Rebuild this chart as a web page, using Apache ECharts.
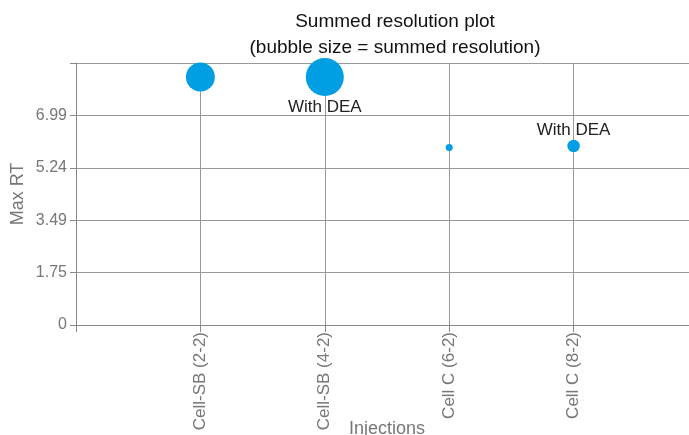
<!DOCTYPE html>
<html>
<head>
<meta charset="utf-8">
<script src="https://cdn.jsdelivr.net/npm/echarts@6/dist/echarts.min.js"></script>
<style>
  html, body { margin: 0; padding: 0; background: #fff; }
  #chart { width: 689px; height: 435px; }
</style>
</head>
<body>
<div id="chart"></div>
<script>
// injections on the x axis (placed at 1..4)
const injections = ['Cell-SB (2-2)', 'Cell-SB (4-2)', 'Cell C (6-2)', 'Cell C (8-2)']
const maxRT = [8.27, 8.27, 5.92, 5.97]
const summedResolution = [58, 100, 3.4, 10.8]
const bubbleLabels = ['', 'With DEA', '', 'With DEA']
const yTickLabels = ['0', '1.75', '3.49', '5.24', '6.99', '']

const yStep = 1.7475
const font = '"Liberation Sans Narrow", "Liberation Sans", sans-serif'
const maxRes = Math.max(...summedResolution)

const data = injections.map((name, i) => ({
  value: [i + 1, maxRT[i], summedResolution[i]],
  label: {
    show: bubbleLabels[i] !== '',
    formatter: bubbleLabels[i],
    position: i === 1 ? 'bottom' : 'top',
    distance: i === 1 ? 3 : 1,
  },
}))

const chart = echarts.init(document.getElementById('chart'))

chart.setOption({
  animation: false,
  title: {
    text: 'Summed resolution plot\n(bubble size = summed resolution)',
    left: 390,
    top: 4,
    textAlign: 'center',
    textStyle: {
      fontFamily: font,
      fontSize: 19,
      fontWeight: 'normal',
      color: '#111',
      lineHeight: 26,
    },
  },
  grid: {
    left: 76,
    top: 63,
    width: 622,
    height: 262,
    outerBoundsMode: 'none',
    containLabel: false,
  },
  xAxis: {
    type: 'value',
    min: 0,
    max: 5,
    interval: 1,
    name: 'Injections',
    nameLocation: 'middle',
    nameGap: 95,
    nameMoveOverlap: false,
    nameTextStyle: { fontFamily: font, fontSize: 18, color: '#777' },
    axisLine: { lineStyle: { color: '#888' } },
    axisTick: { show: true, length: 7, lineStyle: { color: '#888' } },
    splitLine: { show: true, lineStyle: { color: '#999' } },
    axisLabel: {
      rotate: 90,
      margin: 7,
      fontFamily: font,
      fontSize: 17,
      color: '#777',
      formatter: (v) => injections[v - 1] || '',
    },
  },
  yAxis: {
    type: 'value',
    min: 0,
    max: yStep * 5,
    interval: yStep,
    name: 'Max RT',
    nameLocation: 'middle',
    nameGap: 49,
    nameMoveOverlap: false,
    nameTextStyle: { fontFamily: font, fontSize: 18, color: '#777' },
    axisLine: { show: true, lineStyle: { color: '#888' } },
    axisTick: { show: true, length: 6, lineStyle: { color: '#888' } },
    splitLine: { show: true, lineStyle: { color: '#999' } },
    axisLabel: {
      margin: 9,
      fontFamily: font,
      fontSize: 16,
      color: '#777',
      formatter: (v) => yTickLabels[Math.round(v / yStep)],
    },
  },
  series: [
    {
      type: 'scatter',
      data,
      symbolSize: (val) => 38 * Math.sqrt(val[2] / maxRes),
      itemStyle: { color: '#009fe3', opacity: 1 },
      label: {
        fontFamily: font,
        fontSize: 17,
        color: '#222',
      },
    },
  ],
})
</script>
</body>
</html>
